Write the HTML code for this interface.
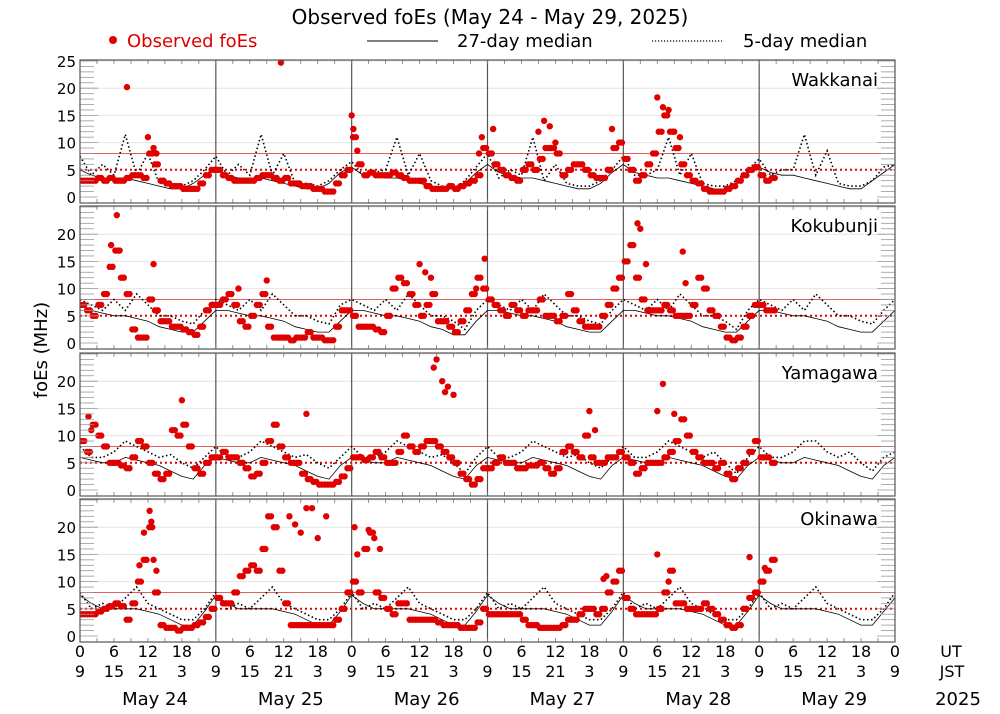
<!DOCTYPE html>
<html><head><meta charset="utf-8">
<style>
html,body{margin:0;padding:0;background:#fff;}
svg{display:block;font-family:"DejaVu Sans","Liberation Sans",sans-serif;}
</style></head>
<body>
<svg id="chart" width="1000" height="714" viewBox="0 0 1000 714" xmlns="http://www.w3.org/2000/svg">
<text x="490" y="24" font-size="20" text-anchor="middle">Observed foEs (May 24 - May 29, 2025)</text>
<g>
<circle cx="113" cy="40" r="4" fill="#e00000"/>
<text x="127" y="47" font-size="18" fill="#e00000">Observed foEs</text>
<line x1="367" y1="41" x2="438" y2="41" stroke="#000" stroke-width="1"/>
<text x="457" y="47" font-size="18">27-day median</text>
<line x1="652" y1="41" x2="722" y2="41" stroke="#000" stroke-width="1.2" stroke-dasharray="1.2,1.8"/>
<text x="743" y="47" font-size="18">5-day median</text>
</g>
<text transform="translate(47,350) rotate(-90)" font-size="18" text-anchor="middle">foEs (MHz)</text>
<g id="panels"></g>
<g id="xaxis"></g>
</svg>
<script>
const stations = ["Wakkanai","Kokubunji","Yamagawa","Okinawa"];
const dayLabels = ["May 24","May 25","May 26","May 27","May 28","May 29"];
const utTicks = ["0","6","12","18"];
const jstTicks = ["9","15","21","3"];
const yTicksTop = [0,5,10,15,20,25];
const yTicks = [0,5,10,15,20];

// Observed foEs, hourly (UT hours from May 24 00UT)
const obsWakkanai = [3,3,3,3.5,3,3.5,3,3,3.5,4,4,3.5,8,6,3,2.5,2,2,1.5,1.5,1.5,2.5,4,5,
5,4,3.5,3,3,3,3,3.5,4,4,3.5,3,3.5,2.5,2.5,2,2,1.5,1.5,1,1,2.5,4,5,
11,6,4,4.5,4,4,4,4.5,4,3.5,3,3,3,2,1.5,1.5,1.5,2,1.5,2,2.5,3,4,9,
8,6,5,4,3.5,3,5,6,5,7,9,9,8,4,5,6,6,5,4,3.5,3.5,5,9,10,
7,5,3,4,6,8,12,15,12,9,6,4,3,2.5,1.5,1,1,1,1.5,2,3,4,5,5.5,
4,3,3.5];
const obsKokubunji = [7,6,5,7,9,14,17,12,9,2.5,1,1,8,6,4,4,3,3,2.5,2,1.5,3,6,7,
7,8,9,7,4,3,5,7,9,3,1,1,1,0.5,1,1,2,1,1,0.5,0.5,3,6,6,
5,3,3,3,2.5,2,5,10,12,11,9,7,5,7,9,4,4,3,2,4,6,9,12,10,
8,7,6,5,7,6,5,6,6,8,5,5,4,5,9,6,4,3,3,3,5,7,10,12,
15,18,12,8,6,6,6,7,6,5,5,5,7,12,10,6,5,3,1,0.5,1,3,5,7,
7,6,6];
const obsYamagawa = [9,7,12,10,8,5,5,4.5,4,6,9,8,5,3,2,3,11,10,12,8,4,3,5,6,
6,7,6,6,5,4,2.5,3,5,9,12,8,6,5,5,3,2,1.5,1,1,1,1.5,2.5,4,
6,6,5.5,6,7,6,5,5,7,10,8,7,8,9,9,8,7,6,5,3,2,1,2,4,
4,5,6,5,5,4,4,4.5,4.5,5,4,3,4,7,8,7,6,10,6,5,5,6,6,7,
6,5,3,4,5,5,5,6,7,9,13,10,7,6,5,5,4,5,3,2,4,5,7,9,
6,6,5];
const obsOkinawa = [4,4,4,4.5,5,5.5,6,5.5,3,6,10,14,20,8,2,1.5,1.5,1,1.5,1.5,2,2.5,3.5,5,
7,6,6,8,11,12,13,12,16,22,20,12,6,2,2,2,2,2,2,2,2,3,5,8,
10,8,16,19,8,7,5,4,6,6,3,3,3,3,3,2.5,2,2,2,1.5,1.5,1.5,2.5,5,
4,4,4,4,4,4,3,2,2,1.5,1.5,1.5,1.5,2,3,3,4,5,5,4,5,8,10,12,
7,5,4,4,4,4,5,8,12,6,6,5,5,5,6,5,4,3,2,1.5,2,5,7,8,
10,12,14];
// Extra scattered observations: [hour, value]
const extraWakkanai = [[8.3,20.2],[12,11],[13,9],[13.5,8],[35.5,24.7],[48,15],[48.3,12.5],[49,8.5],[70.5,8],[71,11],[73,12.5],[81,12],[82,14],[83,13],[84,10],[94,12.5],[102,18.3],[103,16.5],[104,16],[105,12],[106,11]];
const extraKokubunji = [[6.5,23.5],[5.5,18],[7,17],[13,14.5],[28,10],[33,11.5],[60,14.5],[61,13],[62,12],[70,10],[71.5,15.5],[98.5,22],[99,21],[100,14.5],[106.5,16.8],[107,11]];
const extraYamagawa = [[1.5,13.5],[2,11],[18,16.5],[40,14],[63,24],[62.5,22.5],[64,20],[64.5,18],[65,19],[66,17.5],[90,14.5],[91,11],[103,19.5],[102,14.5],[105,14]];
const extraOkinawa = [[10.5,13],[12.3,23],[12.6,21],[11.3,19],[13,14],[13.5,12],[37,22],[38,20.5],[39,19],[40,23.5],[41,23.5],[42,18],[43.5,22],[48.5,20],[49,15],[51,19.5],[52,18],[53,16],[92.5,10.5],[93,11],[102,15],[104,10],[118.3,14.5],[121,12.5]];

// 27-day median, every 2 hours (73 points)
const med27Wakkanai = [5,4,3.5,3.5,3.5,3,2.5,2,1.5,1.5,2.5,4,
5.5,4,3.5,3.5,3.5,3,2.5,2,1.5,1.5,2.5,4.5,
5.5,4,4,3.5,3.5,3,2.5,2,1.5,1.5,2.5,4.5,
6,4.5,4,3.5,3.5,3,2.5,2,1.5,1.5,2.5,4.5,
6,4.5,4,3.5,3.5,3,2.5,2,1.5,1,2.5,4.5,
5.5,4.5,4,4,3.5,3,2.5,2,1.5,1.5,3,4.5,6];
const med5Wakkanai = [7.5,4,6,4,11.5,4,8,2.5,2.5,2,3,5,
7.5,4,6,4,11.5,4,8,2.5,2.5,2,3,5,
6.5,4,4.5,5,11,4,8,3,2,1.5,3,5.5,
8,3.5,5,4,11,3,6,2.5,2,2,3,5,
7.5,4,4,5,11,4,8,2.5,2,2,3,5,
7,4,5,5,11.5,4,8.5,2.5,2,2,3,5.5,6];
const med27Kokubunji = [6,6,5.5,5,5,4.5,4,3,2.5,2,2,4,
6,6,5.5,5,5,4.5,4,3,2.5,2,2,4,
6,6,5.5,5,5,4.5,4,3,2.5,1.5,1.5,4,
6,6,5.5,5,5,4.5,4,3,2.5,2,2,4,
6,6,5.5,5,5,4.5,4,3,2.5,2,2,4,
6,6,5.5,5,5,4.5,4,3,2.5,2,2,4,6];
const med5Kokubunji = [8,7,6,8,6,9,7,5,5,4,3.5,6,
8,7,6,8,6,9,7,5,5,4,3.5,7,
8,7,6,8,6,9,7,5,5,4,2.5,6,
8,7,6,8,6,9,7,5,5,4,3.5,6,
8,7,6,8,6,9,7,5,5,4,2.5,6,
8,7,6,8,6,9,7,5,5,4,3.5,6,8];
const med27Yamagawa = [6,5.5,5,5,6,5.5,5,4.5,3.5,2.5,2,4.5,
6,5.5,5,5,6,5.5,5,4.5,3.5,2.5,2,4.5,
6,5.5,5,5,6,5.5,5,4.5,3.5,2.5,2,4.5,
6,5.5,5,5,6,5.5,5,4.5,3.5,2.5,2,4.5,
6,5.5,5,5,6,5.5,5,4.5,3.5,2.5,2,4.5,
6,5.5,5,5,6,5.5,5,4.5,3.5,2.5,2,4.5,6];
const med5Yamagawa = [8,6,6,7,9,8,7,6,6.5,5,4,6,
8,6,6,7,9,8,7,6,6.5,5,4,6,
8,6,6,7,9,8,7,6,6.5,5,3,6,
8,6,6,7,9,8,7,6,6.5,5,4,6,
8,6,6,7,9,8,7,6,7,5,3,6,
8,6,6,7,9,9,7,6,7,5,3.5,6,7];
const med27Okinawa = [7.5,6,5,5,5,5,4.5,4,3,2,2,4.5,
7.5,6,5,5,5,5,4.5,4,3,2,2,4.5,
7.5,6,5,5,5,5,4.5,4,3,2,2,4.5,
7.5,6,5,5,5,5,4.5,4,3,2,2,4.5,
7.5,6,5,5,5,5,4.5,4,3,2,2,4.5,
7.5,6,5,5,5,5,4.5,4,3,2,2,4.5,7];
const med5Okinawa = [8,5,6,5,7,9,6,5,4,3,3,5,
8,5,6,5,7,9,6,5,4,3,3,5,
8,5,6,5,7,9,6,5,4,3,3,5,
8,5,6,5,7,9,6,5,4,3,3,5,
8,5,6,5,7,9,6,5,4,3,3,5,
8,5,6,5,7,9,6,5,4,3,3,5,8];

const obsSeries = [obsWakkanai,obsKokubunji,obsYamagawa,obsOkinawa];
const extraSeries = [extraWakkanai,extraKokubunji,extraYamagawa,extraOkinawa];
const med27Series = [med27Wakkanai,med27Kokubunji,med27Yamagawa,med27Okinawa];
const med5Series = [med5Wakkanai,med5Kokubunji,med5Yamagawa,med5Okinawa];

const NS="http://www.w3.org/2000/svg";
const X0=80, X1=895, HOURS=144;
const panelTops=[60,206,353,499], PH=143;
function xScale(h){return X0+h*(X1-X0)/HOURS;}
function yScale(p,v){return panelTops[p]+137-v*5.44;}
function mk(tag,attrs,parent){const e=document.createElementNS(NS,tag);for(const k in attrs)e.setAttribute(k,attrs[k]);parent.appendChild(e);return e;}
const root=document.getElementById('panels');

for(let p=0;p<4;p++){
  const g=mk('g',{},root);
  
  
  const top=panelTops[p];
  const cp=mk('clipPath',{id:'cp'+p},g);
  mk('rect',{x:X0,y:top,width:X1-X0,height:PH},cp);
  // grid
  [10,15,20,25].forEach(v=>{
    const l=mk('line',{x1:X0,x2:X1,y1:yScale(p,v),y2:yScale(p,v),stroke:'#e4e4e4','stroke-width':1},g);
    
    
  });
  const r8=mk('line',{x1:X0,x2:X1,y1:yScale(p,8),y2:yScale(p,8),stroke:'#e06060','stroke-width':1},g);
  
  
  const r5=mk('line',{x1:X0,x2:X1,y1:yScale(p,5),y2:yScale(p,5),stroke:'#e00000','stroke-width':2,'stroke-dasharray':'2,3'},g);
  
  
  // day separators
  for(let d=1;d<6;d++){
    const l=mk('line',{x1:xScale(d*24),x2:xScale(d*24),y1:top,y2:top+PH,stroke:'#555','stroke-width':1.2},g);
    
    
  }
  const cg=mk('g',{'clip-path':'url(#cp'+p+')'},g);
  // 27-day median
  const m27=med27Series[p];
  let d27=m27.map((v,i)=>(i?'L':'M')+xScale(i*2).toFixed(1)+','+yScale(p,v).toFixed(1)).join('');
  const l27=mk('path',{d:d27,fill:'none',stroke:'#000','stroke-width':0.8},cg);
  
  
  const m5=med5Series[p];
  let d5=m5.map((v,i)=>(i?'L':'M')+xScale(i*2).toFixed(1)+','+yScale(p,v).toFixed(1)).join('');
  const l5=mk('path',{d:d5,fill:'none',stroke:'#000','stroke-width':1.6,'stroke-dasharray':'1.5,2.5'},cg);
  
  
  // observed
  const og=mk('g',{fill:'#e00000'},cg);
  
  
  obsSeries[p].forEach((v,i)=>{
    const c=mk('circle',{cx:xScale(i+0.25),cy:yScale(p,v),r:3.2},og);
    
    
    const c2=mk('circle',{cx:xScale(i+0.75),cy:yScale(p,v),r:3.2},og);
    
    
  });
  extraSeries[p].forEach(([h,v])=>{
    const c=mk('circle',{cx:xScale(h),cy:yScale(p,v),r:3.2},og);
    
    
  });
  // ticks
  for(let v=0;v<=25;v++){
    const len=(v%5===0)?18:14;
    mk('line',{x1:X0,x2:X0+len*0.0+ (v%5===0?18:14),y1:yScale(p,v),y2:yScale(p,v),stroke:'#999','stroke-width':0.8},g);
    mk('line',{x1:X1,x2:X1-(v%5===0?18:14),y1:yScale(p,v),y2:yScale(p,v),stroke:'#999','stroke-width':0.8},g);
  }
  for(let h=0;h<=HOURS;h+=3){
    mk('line',{x1:xScale(h),x2:xScale(h),y1:top,y2:top+4,stroke:'#777','stroke-width':0.8},g);
    mk('line',{x1:xScale(h),x2:xScale(h),y1:top+PH,y2:top+PH-4,stroke:'#777','stroke-width':0.8},g);
  }
  const fr=mk('rect',{x:X0,y:top,width:X1-X0,height:PH,fill:'none',stroke:'#555','stroke-width':1.2},g);
  
  
  const ticks=p===0?yTicksTop:yTicks;
  ticks.forEach(v=>{
    const t=mk('text',{x:76,y:yScale(p,v)+6,'font-size':15,'text-anchor':'end'},g);
    t.textContent=v;
    
    
  });
  const sn=mk('text',{x:878,y:top+26,'font-size':18,'text-anchor':'end'},g);
  sn.textContent=stations[p];
  
  
}
const xa=document.getElementById('xaxis');
for(let d=0;d<=6;d++){
  for(let k=0;k<4;k++){
    if(d===6&&k>0)break;
    const x=xScale(d*24+k*6);
    const t1=mk('text',{x:x,y:657,'font-size':16,'text-anchor':'middle'},xa);
    t1.textContent=utTicks[k];
    
    
    const t2=mk('text',{x:x,y:677,'font-size':16,'text-anchor':'middle'},xa);
    t2.textContent=jstTicks[k];
    
    
  }
  if(d<6){
    const t=mk('text',{x:xScale(d*24)+75,y:705,'font-size':18,'text-anchor':'middle'},xa);
    t.textContent=dayLabels[d];
    
    
  }
}
const ut=mk('text',{x:951,y:657,'font-size':16,'text-anchor':'middle'},xa);
ut.textContent='UT';


const js=mk('text',{x:952,y:677,'font-size':16,'text-anchor':'middle'},xa);
js.textContent='JST';


const yr=mk('text',{x:958,y:705,'font-size':18,'text-anchor':'middle'},xa);
yr.textContent='2025';


</script>
</body></html>
